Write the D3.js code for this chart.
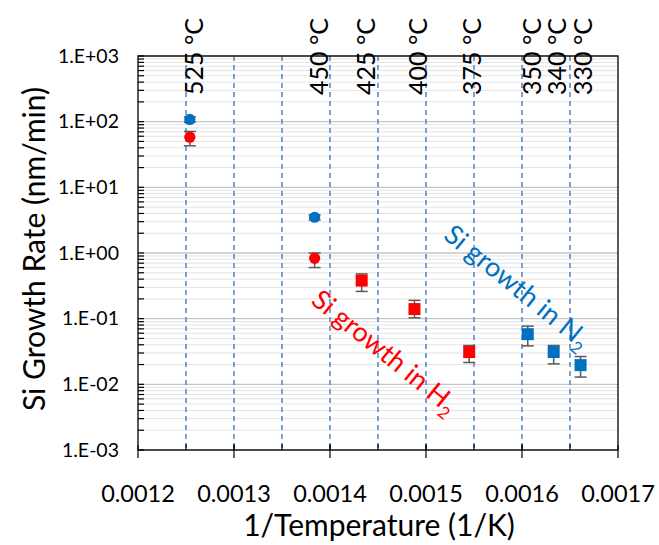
<!DOCTYPE html>
<html lang="en">
<head>
<meta charset="utf-8">
<title>Si growth rate vs 1/T</title>
<script src="https://cdn.jsdelivr.net/npm/d3@7"></script>
<style>
  body { margin: 0; background: #fff; }
  text { font-family: Lato, "Noto Sans", sans-serif; fill: #000; }
</style>
</head>
<body>
<svg id="chart" width="659" height="545"></svg>
<script>
// temperature labels along the top and their 1/T position
const tempLabels = ["525 °C", "450 °C", "425 °C", "400 °C", "375 °C", "350 °C", "340 °C", "330 °C"];
const tempInv = [0.001253, 0.001383, 0.001432, 0.001486, 0.001543, 0.001605, 0.001631, 0.001658];

// growth in H2 (red)
const h2Circles = [
  { x: 0.001254, v: 58, lo: 43, hi: 71 },
  { x: 0.001384, v: 0.83, lo: 0.60, hi: 1.0 }
];
const h2Squares = [
  { x: 0.001433, v: 0.38, lo: 0.26, hi: 0.48 },
  { x: 0.001488, v: 0.14, lo: 0.103, hi: 0.19 },
  { x: 0.001545, v: 0.031, lo: 0.0215, hi: 0.039 }
];
// growth in N2 (blue)
const n2Circles = [
  { x: 0.001254, v: 108, lo: 98, hi: 118 },
  { x: 0.001384, v: 3.5, lo: 3.2, hi: 3.8 }
];
const n2Squares = [
  { x: 0.001606, v: 0.058, lo: 0.0385, hi: 0.077 },
  { x: 0.001633, v: 0.031, lo: 0.0205, hi: 0.039 },
  { x: 0.001661, v: 0.0196, lo: 0.0129, hi: 0.0265 }
];

const xTicks = [0.0012, 0.0013, 0.0014, 0.0015, 0.0016, 0.0017];
const xMinor = [0.00125, 0.0013, 0.00135, 0.0014, 0.00145, 0.0015, 0.00155, 0.0016, 0.00165];
const yTicks = [1e3, 1e2, 1e1, 1e0, 1e-1, 1e-2, 1e-3];
const yTickLabels = ["1.E+03", "1.E+02", "1.E+01", "1.E+00", "1.E-01", "1.E-02", "1.E-03"];

const RED = "#ff0000", BLUE = "#0070c0";

const svg = d3.select("#chart");
const pLeft = 138, pRight = 618, pTop = 56, pBottom = 450;

const x = d3.scaleLinear().domain([0.0012, 0.0017]).range([pLeft, pRight]);
const y = d3.scaleLog().domain([1e-3, 1e3]).range([pBottom, pTop]);

// minor log values between the decades
let yMinor = [];
for (let e = -3; e < 3; e++) {
  for (let k = 2; k <= 9; k++) yMinor.push(k * Math.pow(10, e));
}

// horizontal grid
svg.append("g").selectAll("line").data(yMinor).join("line")
  .attr("x1", pLeft).attr("x2", pRight)
  .attr("y1", d => y(d)).attr("y2", d => y(d))
  .attr("stroke", "#e3e3e3").attr("stroke-width", 1);
svg.append("g").selectAll("line").data(yTicks).join("line")
  .attr("x1", pLeft).attr("x2", pRight)
  .attr("y1", d => y(d)).attr("y2", d => y(d))
  .attr("stroke", "#c6c6c6").attr("stroke-width", 1.3);

// vertical dashed grid
svg.append("g").selectAll("line").data(xMinor).join("line")
  .attr("x1", d => x(d)).attr("x2", d => x(d))
  .attr("y1", pTop).attr("y2", pBottom)
  .attr("stroke", "#5b8dc8").attr("stroke-width", 1.6)
  .attr("stroke-dasharray", "5,4");

// frame
svg.append("rect")
  .attr("x", pLeft).attr("y", pTop)
  .attr("width", pRight - pLeft).attr("height", pBottom - pTop)
  .attr("fill", "none").attr("stroke", "#000").attr("stroke-width", 1.3);

// y ticks (inside)
svg.append("g").selectAll("line").data(yMinor.concat(yTicks)).join("line")
  .attr("x1", pLeft).attr("x2", pLeft + 6)
  .attr("y1", d => y(d)).attr("y2", d => y(d))
  .attr("stroke", "#000").attr("stroke-width", 1.2);

// x ticks
svg.append("g").selectAll("line").data(xMinor).join("line")
  .attr("x1", d => x(d)).attr("x2", d => x(d))
  .attr("y1", pBottom).attr("y2", pBottom - 6)
  .attr("stroke", "#000").attr("stroke-width", 1.2);
svg.append("g").selectAll("line").data(xTicks).join("line")
  .attr("x1", d => x(d)).attr("x2", d => x(d))
  .attr("y1", pBottom - 5).attr("y2", pBottom + 8)
  .attr("stroke", "#000").attr("stroke-width", 1.2);

// tick labels
svg.append("g").selectAll("text").data(yTicks).join("text")
  .attr("x", pLeft - 19).attr("y", d => y(d)).attr("dy", "0.35em")
  .attr("text-anchor", "end").style("font-size", "19.5px")
  .text((d, i) => yTickLabels[i]);
svg.append("g").selectAll("text").data(xTicks).join("text")
  .attr("x", d => x(d)).attr("y", pBottom + 52)
  .attr("text-anchor", "middle").style("font-size", "23.5px")
  .text(d => d.toFixed(4));

// axis titles
svg.append("text")
  .attr("x", (pLeft + pRight) / 2 + 1).attr("y", 536)
  .attr("text-anchor", "middle").style("font-size", "30px")
  .text("1/Temperature (1/K)");
svg.append("text")
  .attr("transform", `translate(45,${(pTop + pBottom) / 2 - 4}) rotate(-90)`)
  .attr("text-anchor", "middle").style("font-size", "30px")
  .text("Si Growth Rate (nm/min)");

// temperature labels
svg.append("g").selectAll("text").data(tempInv).join("text")
  .attr("transform", d => `translate(${x(d) + 14},95) rotate(-90)`)
  .style("font-size", "25px")
  .text((d, i) => tempLabels[i]);

// error bars, drawn under the markers
function errorBars(data) {
  const g = svg.append("g").attr("stroke", "#595959").attr("stroke-width", 1.5);
  g.selectAll(".v").data(data).join("line").attr("class", "v")
    .attr("x1", d => x(d.x)).attr("x2", d => x(d.x))
    .attr("y1", d => y(d.lo)).attr("y2", d => y(d.hi));
  g.selectAll(".lo").data(data).join("line").attr("class", "lo")
    .attr("x1", d => x(d.x) - 6).attr("x2", d => x(d.x) + 6)
    .attr("y1", d => y(d.lo)).attr("y2", d => y(d.lo));
  g.selectAll(".hi").data(data).join("line").attr("class", "hi")
    .attr("x1", d => x(d.x) - 6).attr("x2", d => x(d.x) + 6)
    .attr("y1", d => y(d.hi)).attr("y2", d => y(d.hi));
}
[h2Circles, h2Squares, n2Circles, n2Squares].forEach(errorBars);

function circles(data, color) {
  svg.append("g").selectAll("circle").data(data).join("circle")
    .attr("cx", d => x(d.x)).attr("cy", d => y(d.v)).attr("r", 5.6)
    .attr("fill", color);
}
function squares(data, color) {
  svg.append("g").selectAll("rect").data(data).join("rect")
    .attr("x", d => x(d.x) - 6).attr("y", d => y(d.v) - 6)
    .attr("width", 12).attr("height", 12)
    .attr("fill", color);
}
circles(h2Circles, RED);
squares(h2Squares, RED);
circles(n2Circles, BLUE);
squares(n2Squares, BLUE);

// slanted annotations
function note(px, py, color, sub) {
  const t = svg.append("text")
    .attr("transform", `translate(${x(px)},${y(py)}) rotate(39)`)
    .style("font-size", "27px").style("fill", color);
  t.append("tspan").text("Si growth in " + sub[0]);
  t.append("tspan").attr("dy", 7).style("font-size", "17px").text(sub[1]);
}
note(0.001517, 1.7, BLUE, "N2");
note(0.001379, 0.174, RED, "H2");
</script>
</body>
</html>
